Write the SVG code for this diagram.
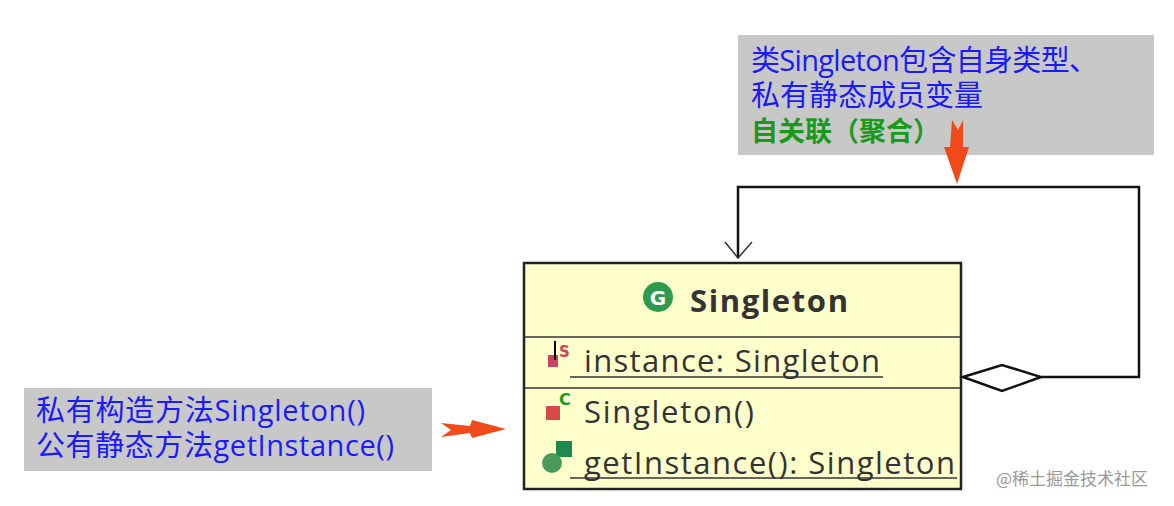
<svg xmlns="http://www.w3.org/2000/svg" width="1174" height="506" viewBox="0 0 1174 506">
<style>
.b{font-family:"Open Sans","Noto Sans CJK SC",sans-serif;font-size:29px;fill:#1a1aff}
.g{font-family:"Noto Sans CJK SC",sans-serif;font-size:27px;font-weight:bold;fill:#1a9a1a}
.m{font-family:"Open Sans","Noto Sans",sans-serif;font-size:31px;fill:#333}
.u{stroke:#333;stroke-width:1.5}
.arr{fill:#f04a1a}
</style>
<rect width="1174" height="506" fill="#fff"/>
<g id="note-top">
<rect x="738" y="35" width="416" height="120" fill="#c8c8c8"/>
<text class="b" x="751" y="71" textLength="347">类Singleton包含自身类型、</text>
<text class="b" x="751" y="106">私有静态成员变量</text>
<text class="g" x="751" y="141">自关联（聚合）</text>
</g>
<g id="note-left">
<rect x="24" y="388" width="408" height="83" fill="#c8c8c8"/>
<text class="b" x="36" y="421" textLength="329">私有构造方法Singleton()</text>
<text class="b" x="36" y="456" textLength="358">公有静态方法getInstance()</text>
</g>
<g id="class-singleton">
<rect x="524" y="263" width="437" height="226" fill="#ffffcc" stroke="#222" stroke-width="2.5"/>
<line x1="524" y1="337" x2="961" y2="337" stroke="#333" stroke-width="1.5"/>
<line x1="524" y1="388" x2="961" y2="388" stroke="#333" stroke-width="1.5"/>
<circle cx="658" cy="297" r="15" fill="#2e9a4e"/>
<text x="658" y="305" font-family="DejaVu Sans,sans-serif" font-size="20" font-weight="bold" fill="#fff" text-anchor="middle">G</text>
<text class="m" x="690" y="312" font-weight="bold" textLength="158">Singleton</text>
<rect x="548" y="355" width="10" height="12" fill="#d04060"/>
<line x1="555" y1="341" x2="555" y2="360" stroke="#000" stroke-width="2"/>
<text x="559" y="357" font-family="DejaVu Sans,sans-serif" font-size="15" fill="#d04060" font-weight="bold">S</text>
<text class="m" x="584" y="372" textLength="296">instance: Singleton</text>
<line class="u" x1="570" y1="377" x2="883" y2="377"/>
<rect x="546" y="406" width="14" height="14" fill="#d84a4a"/>
<text x="559" y="405" font-family="DejaVu Sans,sans-serif" font-size="16" fill="#1a9a1a" font-weight="bold">C</text>
<text class="m" x="584" y="423" textLength="170">Singleton()</text>
<rect x="556" y="441" width="16" height="16" fill="#1f8a4e"/>
<circle cx="552" cy="463" r="10" fill="#4a9a5a"/>
<text class="m" x="584" y="474" textLength="371">getInstance(): Singleton</text>
<line class="u" x1="570" y1="478" x2="957" y2="478"/>
</g>
<g id="connectors">
<polyline points="1041,377 1139,377 1139,187 738,187 738,258" fill="none" stroke="#111" stroke-width="2.5"/>
<polyline points="725,242 738,258 752,242" fill="none" stroke="#333" stroke-width="1.5"/>
<polygon points="963,377 1002,365 1041,377 1002,391" fill="#fff" stroke="#111" stroke-width="2.5"/>
<polygon class="arr" points="952,120 958,130 963,120 963,147 969,147 957,184 944,147 950,147"/>
<polygon class="arr" points="441,423 470,426 472,420 506,429 472,438 470,433 441,437 451,430"/>
</g>
<text x="996" y="485" font-family="Noto Sans CJK SC,sans-serif" font-size="17" fill="#999">@稀土掘金技术社区</text>
</svg>
